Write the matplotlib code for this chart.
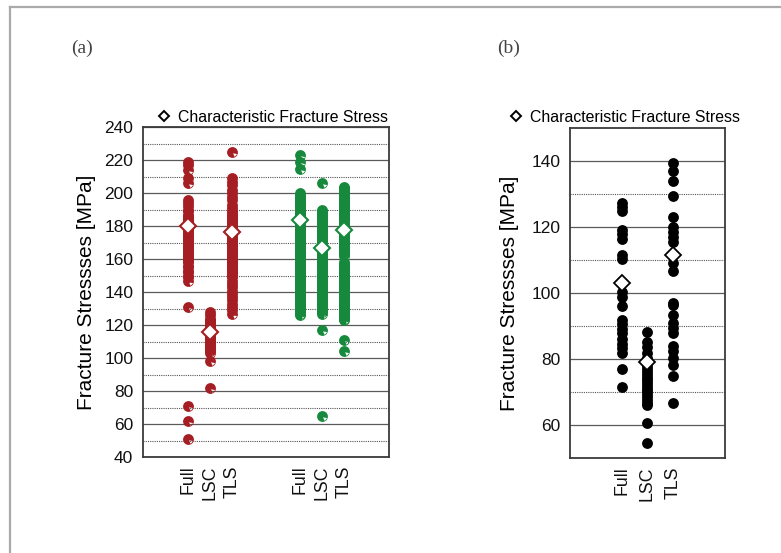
import matplotlib
matplotlib.use("Agg")
import matplotlib.pyplot as plt
from matplotlib.path import Path
from matplotlib.markers import MarkerStyle
from matplotlib.lines import Line2D
import numpy as np

# ---------------- data ----------------
cats_a = ["Full", "LSC", "TLS", "Full", "LSC", "TLS"]
pos_a = [0, 1, 2, 5, 6, 7]

red_full = [219, 217, 214, 209, 206, 196, 194, 192, 190, 189, 187, 186, 185, 184, 183,
            182, 181, 180, 179, 178, 177, 176, 175, 174, 173, 172, 171, 170, 169, 168,
            167, 166, 165, 164, 163, 162, 161, 160, 159, 158, 156, 155, 153, 152, 150,
            149, 147, 131, 71, 62, 51]
red_lsc = [128, 126, 124, 123, 122, 121, 120, 119, 118, 117, 116, 115, 114, 113, 112,
           111, 110, 109, 108, 107, 106, 105, 104, 103, 98, 82]
red_tls = [225, 209, 207, 205, 202, 200, 198, 196, 193, 191, 189, 188, 187, 186, 185,
           184, 183, 182, 181, 180, 179, 178, 177, 176, 175, 174, 173, 172, 171, 170,
           169, 168, 167, 166, 165, 164, 163, 162, 161, 160, 159, 158, 157, 156, 155,
           154, 153, 152, 151, 150, 149, 147, 145, 143, 141, 139, 137, 135, 133, 131,
           129, 127]
green_full = [223, 219, 215, 200, 199, 198, 197, 196, 195, 194, 193, 192, 191, 190, 189,
              188, 187, 186, 185, 184, 183, 182, 181, 180, 179, 178, 177, 176, 175, 174,
              173, 172, 171, 170, 169, 168, 167, 166, 165, 164, 163, 162, 161, 160, 159,
              158, 157, 156, 155, 154, 153, 152, 151, 150, 149, 148, 147, 146, 145, 144,
              143, 142, 141, 140, 139, 138, 137, 136, 135, 134, 133, 132, 131, 130, 129,
              128, 127, 126]
green_lsc = [206, 190, 189, 188, 187, 186, 185, 184, 183, 182, 181, 180, 179, 178, 177,
             176, 175, 174, 173, 172, 171, 170, 169, 168, 167, 166, 165, 164, 163, 162,
             161, 160, 159, 158, 157, 156, 155, 154, 153, 152, 151, 150, 149, 148, 147,
             146, 145, 144, 143, 142, 141, 140, 139, 138, 137, 136, 135, 134, 133, 132,
             131, 130, 129, 128, 127, 117, 65]
green_tls = [204, 203, 202, 201, 200, 199, 198, 197, 196, 195, 194, 193, 192, 191, 190,
             189, 188, 187, 186, 185, 184, 183, 182, 181, 180, 179, 178, 177, 176, 175,
             174, 173, 172, 171, 170, 169, 168, 167, 166, 165, 164, 163, 162, 158, 157,
             156, 155, 154, 153, 152, 151, 150, 149, 148, 147, 146, 145, 144, 143, 142,
             141, 140, 139, 138, 137, 136, 135, 134, 133, 132, 131, 130, 129, 128, 127,
             126, 125, 124, 123, 111, 104]
char_a = [180, 116, 176.5, 184, 166.5, 178]

cats_b = ["Full", "LSC", "TLS"]
pos_b = [0, 1, 2]
b_full = [127.2, 126.0, 124.8, 119.1, 117.9, 116.3, 111.5, 110.2, 100.4, 98.9, 96.1,
          91.8, 90.6, 89.0, 87.8, 86.0, 84.5, 83.2, 81.9, 76.9, 71.4]
b_lsc = [88.3, 85.2, 83.7, 81.7, 80.2, 79.0, 78.0, 77.0, 76.0, 75.2, 74.3, 73.5, 72.6,
         71.8, 71.0, 70.2, 69.3, 68.5, 67.6, 66.8, 66.0, 60.5, 54.5]
b_tls = [139.5, 137.0, 134.0, 129.4, 123.1, 119.9, 118.6, 116.9, 115.5, 109.0, 106.8,
         97.1, 96.4, 93.3, 91.0, 89.3, 87.8, 84.0, 82.5, 80.2, 78.2, 74.9, 66.8]
char_b = [103, 79, 111.5]

legend_label = "Characteristic Fracture Stress"
ylabel = "Fracture Stressses [MPa]"

RED = "#a51e23"
GREEN = "#17893d"

plt.rcParams["font.family"] = ["Liberation Sans", "DejaVu Sans"]

fig = plt.figure(figsize=(7.81, 5.53), dpi=100)

# circle marker with a small white highlight notch
circ = Path.unit_circle()
tri_v = np.array([[0.1, -0.15], [0.85, -0.3], [0.4, -0.8], [0.1, -0.15]])
tri_c = [Path.MOVETO, Path.LINETO, Path.LINETO, Path.CLOSEPOLY]
hl_path = Path(np.vstack([circ.vertices, tri_v]),
               np.concatenate([circ.codes, tri_c]))
hl_marker = MarkerStyle(hl_path)


def style_axes(ax, major, minor):
    ax.set_yticks(major)
    ax.set_yticks(minor, minor=True)
    ax.yaxis.grid(True, which="major", ls="-", color="#5a5a5a", lw=0.9)
    ax.yaxis.grid(True, which="minor", ls=(0, (1, 1)), color="#555555", lw=0.8)
    ax.set_axisbelow(True)
    for s in ax.spines.values():
        s.set_color("#3a3a3a")
        s.set_linewidth(1.3)
    ax.tick_params(axis="y", which="both", length=0, pad=7, labelsize=12.5, colors="#111111")
    ax.tick_params(axis="x", length=0, pad=6, labelsize=12.8, colors="#111111")


# ---------------- panel (a) ----------------
axa = fig.add_axes([0.1831, 0.1736, 0.315, 0.5962])
groups_a = [red_full, red_lsc, red_tls, green_full, green_lsc, green_tls]
cols_a = [RED, RED, RED, GREEN, GREEN, GREEN]
for p, vals, c, ch in zip(pos_a, groups_a, cols_a, char_a):
    axa.plot([p] * len(vals), vals, ls="none", marker=hl_marker, ms=7.8,
             mfc=c, mec="none", zorder=3)
    axa.plot([p], [ch], ls="none", marker="D", ms=8.2, mfc="white", mec=c,
             mew=1.5, zorder=4)
axa.set_xlim(-2, 9)
axa.set_ylim(40, 240)
style_axes(axa, [40, 60, 80, 100, 120, 140, 160, 180, 200, 220, 240],
           [50, 70, 90, 110, 130, 150, 170, 190, 210, 230])
axa.set_xticks(pos_a)
axa.set_xticklabels(cats_a, rotation=90)
axa.set_ylabel(ylabel, fontsize=15)
axa.yaxis.set_label_coords(-0.19, 0.5)

# ---------------- panel (b) ----------------
axb = fig.add_axes([0.7298, 0.1718, 0.1985, 0.5967])
for p, vals, ch in zip(pos_b, [b_full, b_lsc, b_tls], char_b):
    axb.plot([p] * len(vals), vals, ls="none", marker="o", ms=7.8,
             mfc="black", mec="none", zorder=3)
    axb.plot([p], [ch], ls="none", marker="D", ms=8.2, mfc="white", mec="black",
             mew=1.3, zorder=4)
axb.set_xlim(-2, 4)
axb.set_ylim(50, 150)
style_axes(axb, [60, 80, 100, 120, 140], [70, 90, 110, 130])
axb.set_xticks(pos_b)
axb.set_xticklabels(cats_b, rotation=90)
axb.set_ylabel(ylabel, fontsize=15)
axb.yaxis.set_label_coords(-0.33, 0.5)

# ---------------- legends ----------------
h = Line2D([], [], ls="none", marker="D", ms=5.2, mfc="white", mec="black", mew=1.4)
for ax, x in [(axa, 158 / 781), (axb, 510 / 781)]:
    ax.legend([h], [legend_label], loc="center left",
              bbox_to_anchor=(x, 1 - 117 / 553), bbox_transform=fig.transFigure,
              frameon=False, borderpad=0, borderaxespad=0, handlelength=0.8,
              handletextpad=0.45, fontsize=11.4)

# ---------------- panel letters ----------------
fig.text(82 / 781, 1 - 48 / 553, "(a)", ha="center", va="center",
         family="Liberation Serif", fontsize=14, color="#444444")
fig.text(509 / 781, 1 - 48 / 553, "(b)", ha="center", va="center",
         family="Liberation Serif", fontsize=14, color="#444444")

# outer frame (cropped border)
fig.add_artist(Line2D([10 / 781, 1], [1 - 7 / 553, 1 - 7 / 553],
                      transform=fig.transFigure, color="#aaaaaa", lw=1.6))
fig.add_artist(Line2D([10 / 781, 10 / 781], [0, 1 - 7 / 553],
                      transform=fig.transFigure, color="#aaaaaa", lw=1.6))

fig.savefig("out.png", dpi=100)
